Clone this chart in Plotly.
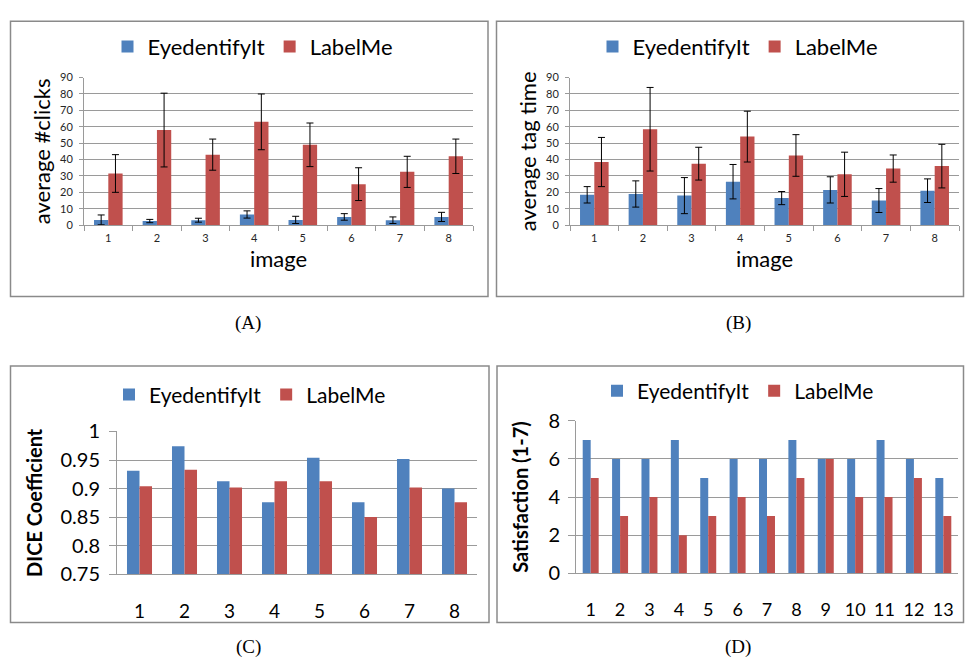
import plotly.graph_objects as go

W, H = 965, 671
BLUE = "#4F81BD"
RED = "#C0504D"
GRID = "#9a9a9a"
FONT = "Lato"

# ---------------- data ----------------
images8 = ["1", "2", "3", "4", "5", "6", "7", "8"]
users13 = ["1", "2", "3", "4", "5", "6", "7", "8", "9", "10", "11", "12", "13"]

clicks_eye = [3.2, 2.5, 3.0, 6.5, 3.2, 5.0, 3.0, 5.0]
clicks_eye_err = [3.0, 1.0, 1.2, 2.2, 2.2, 2.0, 2.0, 2.8]
clicks_lab = [31.5, 58, 43, 63, 49, 25, 32.5, 42]
clicks_lab_err = [11.5, 22.5, 9.5, 17, 13.3, 10, 9.5, 10.5]

time_eye = [18.5, 19, 18, 26.5, 16.5, 21.5, 15, 21]
time_eye_err = [5, 8, 11, 10.5, 4, 8, 7.3, 7.2]
time_lab = [38.5, 58.5, 37.5, 54, 42.5, 31, 34.5, 36]
time_lab_err = [15, 25.5, 10, 15.5, 12.7, 13.5, 8.3, 13.3]

dice_eye = [0.931, 0.974, 0.913, 0.876, 0.954, 0.876, 0.952, 0.900]
dice_lab = [0.904, 0.933, 0.902, 0.913, 0.913, 0.850, 0.902, 0.876]

sat_eye = [7, 6, 6, 7, 5, 6, 6, 7, 6, 6, 7, 6, 5]
sat_lab = [5, 3, 4, 2, 3, 4, 3, 5, 6, 4, 4, 5, 3]

dice_ticks = [0.75, 0.8, 0.85, 0.9, 0.95, 1]
dice_ticktext = ["0.75", "0.8", "0.85", "0.9", "0.95", "1"]

captions = ["(A)", "(B)", "(C)", "(D)"]


def px_x(p):
    return p / W


def px_y(p):
    return 1 - p / H


fig = go.Figure()

panels = [
    dict(ax="", x=images8, e=clicks_eye, ee=clicks_eye_err, l=clicks_lab, le=clicks_lab_err, leg="legend", w=0.294),
    dict(ax="2", x=images8, e=time_eye, ee=time_eye_err, l=time_lab, le=time_lab_err, leg="legend2", w=0.294),
    dict(ax="3", x=images8, e=dice_eye, ee=None, l=dice_lab, le=None, leg="legend3", w=0.278),
    dict(ax="4", x=users13, e=sat_eye, ee=None, l=sat_lab, le=None, leg="legend4", w=0.272),
]

for p in panels:
    w = p["w"]
    for name, vals, err, col, off in [("EyedentifyIt", p["e"], p["ee"], BLUE, -w),
                                      ("LabelMe", p["l"], p["le"], RED, 0.0)]:
        kw = {}
        if err is not None:
            kw["error_y"] = dict(type="data", array=err, visible=True, color="black", thickness=1, width=3.5)
        fig.add_trace(go.Bar(
            x=p["x"], y=vals, name=name, width=w, offset=off,
            marker=dict(color=col, line=dict(width=0)),
            xaxis="x" + p["ax"], yaxis="y" + p["ax"], legend=p["leg"], **kw))

# domains (pixel based)
dom = {
    "": ((84, 473), (67, 220)),
    "2": ((570, 959), (67, 220)),
    "3": ((117, 477), (434, 582)),
    "4": ((576, 958), (423, 581)),
}

layout = dict(
    width=W, height=H, margin=dict(l=0, r=0, t=0, b=0),
    paper_bgcolor="white", plot_bgcolor="white",
    barmode="overlay", showlegend=True,
    font=dict(family=FONT, color="black"),
)

for ax, ((x0, x1), (y0, y1)) in dom.items():
    xa = dict(domain=[px_x(x0), px_x(x1)], anchor="y" + ax, type="category",
              showline=True, linecolor=GRID, linewidth=1, showgrid=False, zeroline=False)
    ya = dict(domain=[px_y(y1), px_y(y0)], anchor="x" + ax,
              showline=True, linecolor=GRID, linewidth=1, showgrid=True,
              gridcolor=GRID, gridwidth=1, zeroline=False,
              ticks="outside", tickcolor=GRID)
    if ax in ("", "2"):
        xa.update(ticks="outside", tickson="boundaries", ticklen=5, tickcolor=GRID,
                  ticklabelstandoff=3,
                  tickfont=dict(family=FONT, size=11, color="#262626"),
                  title=dict(text="image", font=dict(family=FONT, size=22), standoff=8))
        ya.update(range=[0, 90], dtick=10, ticklen=4, ticklabelstandoff=4,
                  tickfont=dict(family=FONT, size=11, color="#262626"),
                  title=dict(text="average #clicks" if ax == "" else "average tag time",
                             font=dict(family=FONT, size=22), standoff=3))
    elif ax == "3":
        xa.update(ticks="", ticklabelstandoff=20, tickfont=dict(family=FONT, size=19, color="black"))
        ya.update(range=[0.75, 1], tickvals=dice_ticks, ticktext=dice_ticktext,
                  ticklen=7, ticklabelstandoff=5,
                  tickfont=dict(family=FONT, size=20, color="black"),
                  title=dict(text="<b>DICE Coefficient</b>", font=dict(family=FONT, size=20), standoff=12))
    else:
        xa.update(ticks="", ticklabelstandoff=20, tickfont=dict(family=FONT, size=18, color="black"))
        ya.update(range=[0, 8], dtick=2, ticklen=7, ticklabelstandoff=4,
                  tickfont=dict(family=FONT, size=20, color="black"),
                  title=dict(text="<b>Satisfaction (1-7)</b>", font=dict(family=FONT, size=20), standoff=14))
    layout["xaxis" + ax] = xa
    layout["yaxis" + ax] = ya

fig.update_layout(**layout)

# legends
legpos = {
    "legend": (253, 35, 22),
    "legend2": (738, 35, 22),
    "legend3": (250, 396, 21),
    "legend4": (738, 392, 21),
}
for lg, (cx, cy, fs) in legpos.items():
    fig.update_layout(**{lg: dict(orientation="h", x=px_x(cx), y=px_y(cy), xanchor="center", yanchor="middle",
                                  font=dict(family=FONT, size=fs, color="black"), bgcolor="rgba(0,0,0,0)",
                                  itemwidth=30, traceorder="normal")})

# panel borders
boxes = [(10.5, 8.5, 488, 294), (496.5, 8.5, 963.5, 294), (10.5, 366, 489, 632), (497, 366, 963.5, 632)]
for (x0, y0, x1, y1) in boxes:
    fig.add_shape(type="rect", xref="paper", yref="paper", x0=px_x(x0), x1=px_x(x1), y0=px_y(y1), y1=px_y(y0),
                  line=dict(color="#8a8a8a", width=1.5), fillcolor="rgba(0,0,0,0)", layer="below")

# captions
cap_pos = [(248, 321), (738, 321), (248, 657), (738, 657)]
for txt, (cx, cy) in zip(captions, cap_pos):
    fig.add_annotation(text=txt, x=px_x(cx), y=px_y(cy), xref="paper", yref="paper", showarrow=False,
                       xanchor="center", yanchor="middle",
                       font=dict(family="Liberation Serif", size=19, color="black"))

fig.write_html("out.html")
